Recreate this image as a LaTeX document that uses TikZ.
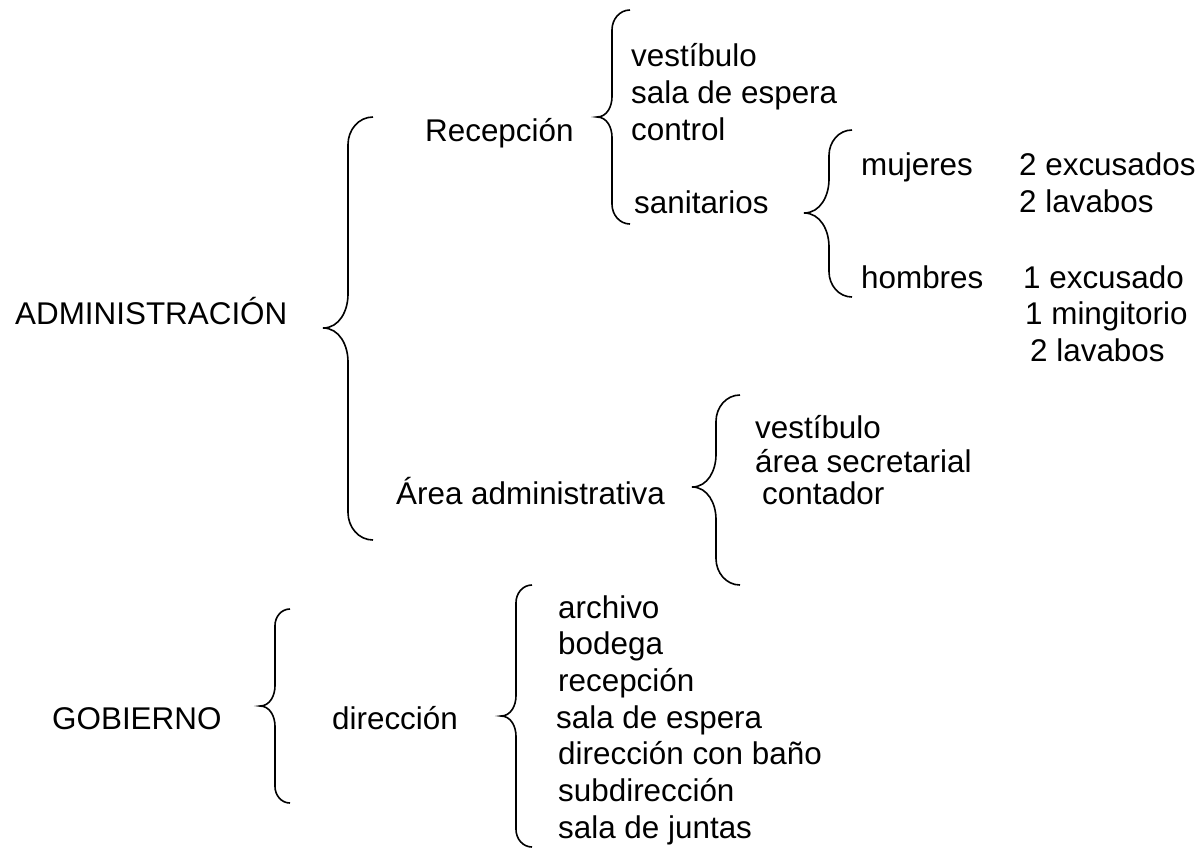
\documentclass[tikz,border=0pt]{standalone}
\usepackage{fontspec}
\setmainfont{Liberation Sans}
\newcommand{\mybrace}[6]{% xe, xv, xt, ytop, ytip, ybot (pixel units, y downward)
  \pgfmathsetmacro{\ra}{(#1-#2)*1.1}
  \pgfmathsetmacro{\rb}{(#2-#3)*1.35}
  \draw[bracestyle] (#1,-#4) to[out=180,in=90] (#2,-#4-\ra) -- (#2,-#5+\rb)
    to[out=-90,in=0] (#3,-#5) to[out=0,in=90] (#2,-#5-\rb) -- (#2,-#6+\ra)
    to[out=-90,in=180] (#1,-#6);}
\begin{document}
\begin{tikzpicture}[x=1pt,y=1pt,
  bracestyle/.style={line width=1.6pt,black},
  lbl/.style={anchor=base west,inner sep=0pt,font=\fontsize{31.4}{36}\selectfont}]
\useasboundingbox (0,0) rectangle (1201,-849);
% braces
\mybrace{373}{348}{323}{117}{328}{540}
\mybrace{630}{612}{597}{10}{117}{224}
\mybrace{852}{829}{804}{130}{213}{297}
\mybrace{740}{716}{692}{395}{487}{585}
\mybrace{290}{275}{260}{609}{706}{803}
\mybrace{532}{516}{501}{585}{716}{847}
% texts
\node[lbl] (adm) at (15,-324) {ADMINISTRACIÓN};
\node[lbl] (rec) at (425,-141) {Recepción};
\node[lbl] (r1) at (631,-66) {vestíbulo};
\node[lbl] (r2) at (631,-103) {sala de espera};
\node[lbl] (r3) at (631,-140) {control};
\node[lbl] (san) at (634,-213) {sanitarios};
\node[lbl] (muj) at (861,-175) {mujeres};
\node[lbl] (m1) at (1019,-175) {2 excusados};
\node[lbl] (m2) at (1019,-212) {2 lavabos};
\node[lbl] (hom) at (861,-288) {hombres};
\node[lbl] (h1) at (1023,-288) {1 excusado};
\node[lbl] (h2) at (1025,-324) {1 mingitorio};
\node[lbl] (h3) at (1030,-361) {2 lavabos};
\node[lbl] (area) at (396,-504) {Área administrativa};
\node[lbl] (a1) at (755,-438) {vestíbulo};
\node[lbl] (a2) at (755,-472) {área secretarial};
\node[lbl] (a3) at (762,-504) {contador};
\node[lbl] (gob) at (52,-729) {GOBIERNO};
\node[lbl] (dir) at (332,-729) {dirección};
\node[lbl] (d1) at (558,-618) {archivo};
\node[lbl] (d2) at (558,-654.7) {bodega};
\node[lbl] (d3) at (558,-691.4) {recepción};
\node[lbl] (d4) at (556,-728) {sala de espera};
\node[lbl] (d5) at (558,-764.8) {dirección con baño};
\node[lbl] (d6) at (558,-801.5) {subdirección};
\node[lbl] (d7) at (558,-838) {sala de juntas};
\end{tikzpicture}
\end{document}
